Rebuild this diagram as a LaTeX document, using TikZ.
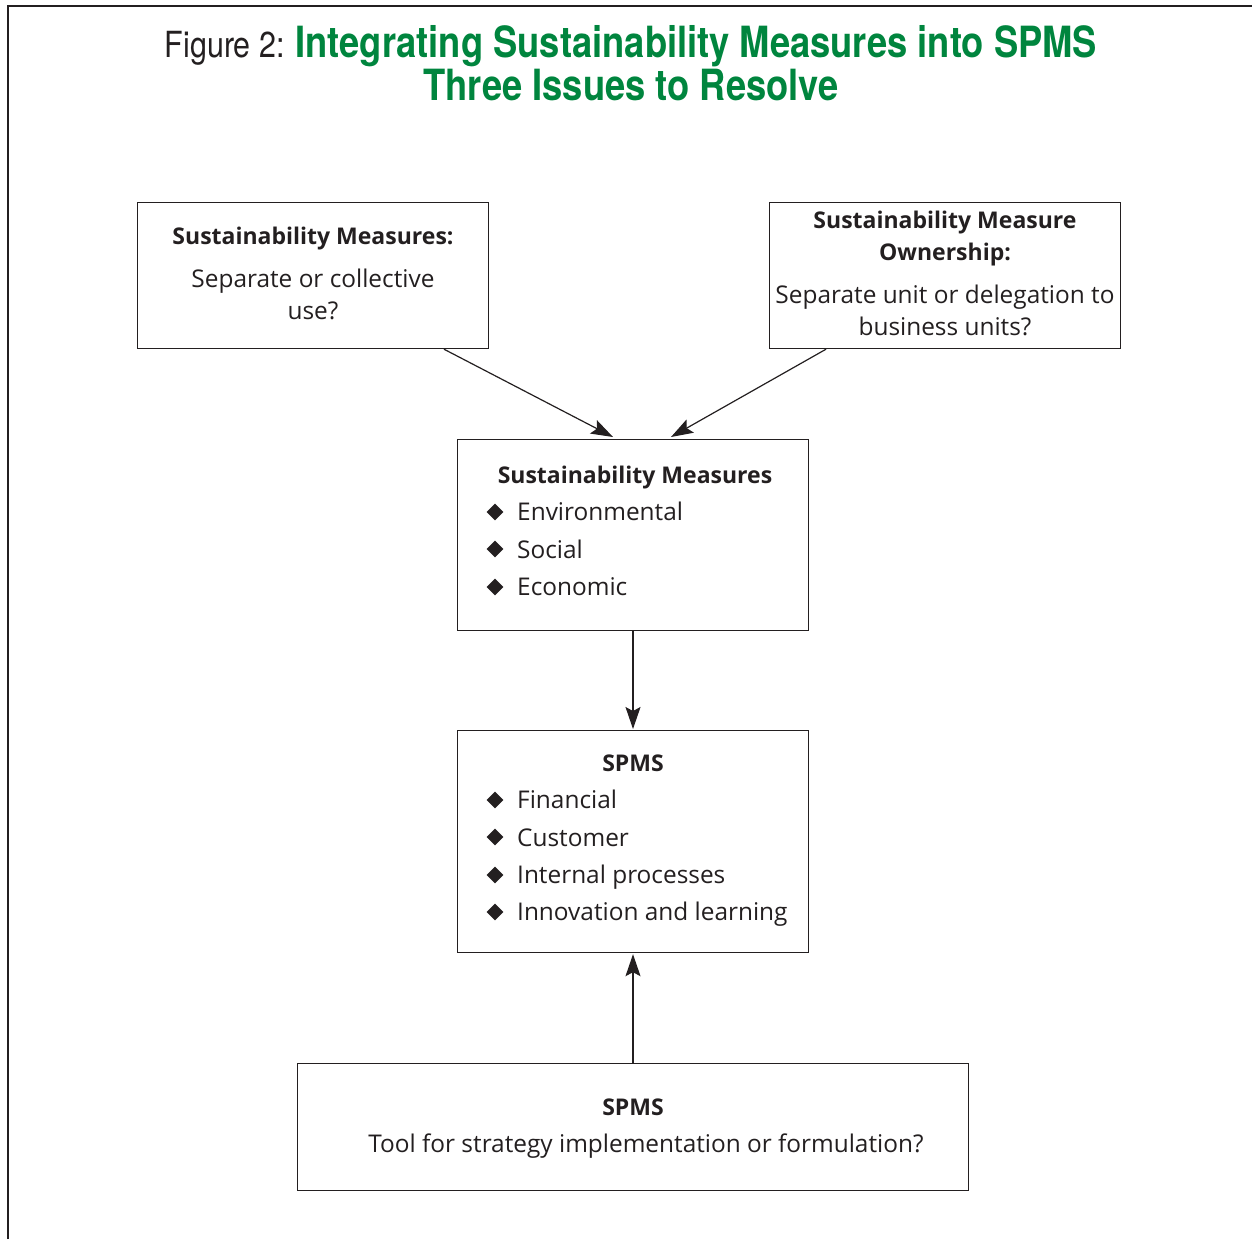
\documentclass[tikz,border=0pt]{standalone}
\usepackage{fontspec}
\setmainfont{Open Sans}
\newfontfamily\titlefont[FakeStretch=0.845]{TeX Gyre Heros}
\usetikzlibrary{arrows.meta,shapes.geometric}
\definecolor{titlegreen}{RGB}{0,133,62}
\definecolor{ink}{RGB}{35,31,32}
\tikzset{
  box/.style={draw=ink,line width=1.2pt,rectangle,inner sep=0pt,anchor=north west},
  txt/.style={anchor=base,inner sep=0pt,text=ink,font=\fontsize{24.4}{28}\selectfont},
  head/.style={txt,font=\fontsize{23}{27}\selectfont\bfseries},
  itm/.style={anchor=base west,inner sep=0pt,text=ink,font=\fontsize{24.4}{28}\selectfont},
  bul/.style={diamond,fill=ink,inner sep=0pt,minimum size=17pt},
  arr/.style={draw=ink,line width=1.2pt,-{Stealth[length=22pt,width=15pt,inset=4pt]}}
}
\begin{document}
\begin{tikzpicture}[x=1pt,y=-1pt]
\useasboundingbox (0,0) rectangle (1252,1239);
\draw[ink,line width=1.6pt] (8,1239) -- (8,6) -- (1252,6);
% title
\node[anchor=base,inner sep=0pt] (title1) at (631,57)
  {\titlefont{\fontsize{36}{40}\selectfont\color{ink}Figure 2:}\hspace{11pt}{\fontsize{43}{46}\selectfont\color{titlegreen}\bfseries Integrating Sustainability Measures into SPMS}};
\node[anchor=base,inner sep=0pt] (title2) at (631,100)
  {\titlefont\fontsize{43}{46}\selectfont\bfseries\color{titlegreen}Three Issues to Resolve};
% boxes
\node[box,minimum width=351pt,minimum height=146pt] (A) at (137,202) {};
\node[box,minimum width=351pt,minimum height=146pt] (B) at (769,202) {};
\node[box,minimum width=351pt,minimum height=191pt] (C) at (457,439) {};
\node[box,minimum width=351pt,minimum height=222pt] (D) at (457,730) {};
\node[box,minimum width=671pt,minimum height=127pt] (E) at (297,1063) {};
% box A text
\node[head] (a1) at (313,244) {Sustainability Measures:};
\node[txt] (a2) at (313,287) {Separate or collective};
\node[txt] (a3) at (313,319) {use?};
% box B text
\node[head] (b1) at (945,228) {Sustainability Measure};
\node[head] (b2) at (945,260) {Ownership:};
\node[txt] (b3) at (945,303) {Separate unit or delegation to};
\node[txt] (b4) at (945,335) {business units?};
% box C text
\node[head] (c0) at (635,483) {Sustainability Measures};
\node[bul] (cb1) at (495,512) {};
\node[itm] (c1) at (517,520) {Environmental};
\node[bul] (cb2) at (495,549) {};
\node[itm] (c2) at (517,558) {Social};
\node[bul] (cb3) at (495,587) {};
\node[itm] (c3) at (517,595) {Economic};
% box D text
\node[head] (d0) at (633,771) {SPMS};
\node[bul] (db1) at (495,800) {};
\node[itm] (d1) at (517,808) {Financial};
\node[bul] (db2) at (495,837) {};
\node[itm] (d2) at (517,846) {Customer};
\node[bul] (db3) at (495,875) {};
\node[itm] (d3) at (517,883) {Internal processes};
\node[bul] (db4) at (495,912) {};
\node[itm] (d4) at (517,920) {Innovation and learning};
% box E text
\node[head] (e0) at (633,1115) {SPMS};
\node[txt] (e1) at (646,1152) {Tool for strategy implementation or formulation?};
% arrows
\coordinate (Atip) at (613,437);
\coordinate (Btip) at (671,437);
\draw[arr] ([xshift=307pt]A.south west) -- (Atip);
\draw[arr] ([xshift=57pt]B.south west) -- (Btip);
\draw[arr] ([xshift=176pt]C.south west) -- ([xshift=176pt,yshift=1pt]D.north west);
\draw[arr] ([xshift=336pt]E.north west) -- ([xshift=176pt,yshift=-1pt]D.south west);
\end{tikzpicture}
\end{document}
